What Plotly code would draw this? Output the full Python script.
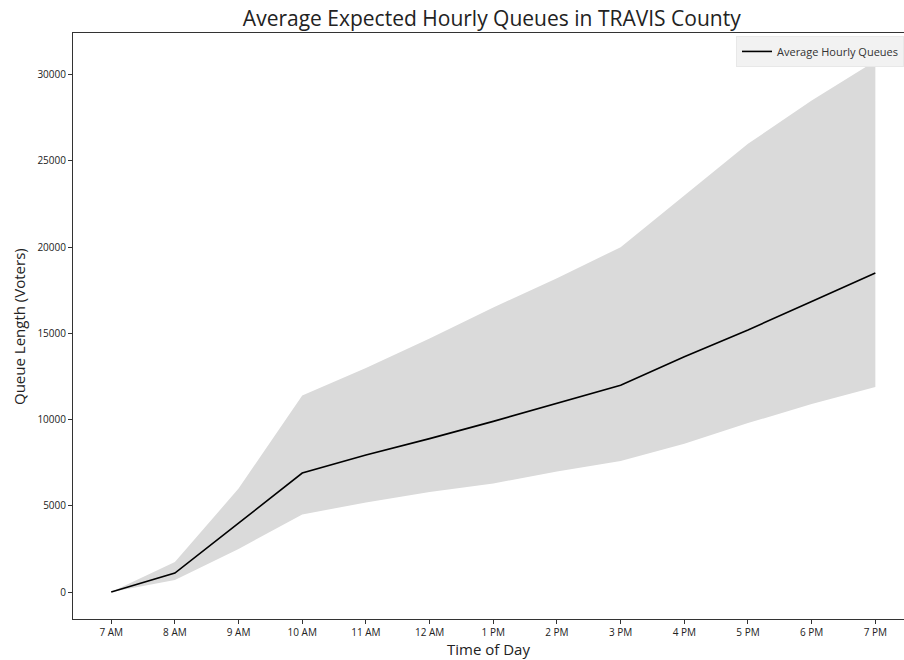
import plotly.graph_objects as go

hours = ["7 AM", "8 AM", "9 AM", "10 AM", "11 AM", "12 AM", "1 PM",
         "2 PM", "3 PM", "4 PM", "5 PM", "6 PM", "7 PM"]
mean_queue = [0, 1100, 4000, 6900, 7950, 8900, 9900, 10950, 12000,
              13650, 15200, 16850, 18500]
upper_queue = [0, 1750, 6000, 11400, 13000, 14700, 16500, 18200, 20000,
               23000, 26000, 28500, 30800]
lower_queue = [0, 700, 2500, 4500, 5200, 5800, 6300, 7000, 7600,
               8600, 9800, 10900, 11900]

yticks = [0, 5000, 10000, 15000, 20000, 25000, 30000]

FONT = "Open Sans"

fig = go.Figure()
fig.add_trace(go.Scatter(x=hours, y=upper_queue, mode="lines",
                         line=dict(width=0, color="rgba(0,0,0,0)"),
                         showlegend=False, hoverinfo="skip"))
fig.add_trace(go.Scatter(x=hours, y=lower_queue, mode="lines",
                         line=dict(width=0, color="rgba(0,0,0,0)"),
                         fill="tonexty", fillcolor="#dadada",
                         showlegend=False, hoverinfo="skip"))
fig.add_trace(go.Scatter(x=hours, y=mean_queue, mode="lines",
                         line=dict(color="black", width=1.6),
                         name="Average Hourly Queues"))

fig.update_layout(
    width=904, height=660,
    margin=dict(l=73, r=0, t=33, b=41),
    paper_bgcolor="white", plot_bgcolor="white",
    font=dict(family=FONT, color="#222222"),
    title=dict(text="Average Expected Hourly Queues in TRAVIS County",
               x=0.544, xanchor="center", y=0.971, yanchor="middle",
               font=dict(size=21, family=FONT, color="#222222")),
    showlegend=True,
    legend=dict(x=1, xanchor="right", y=0.995, yanchor="top",
                bgcolor="#f2f2f2", bordercolor="#e8e8e8", borderwidth=1,
                font=dict(size=11, family=FONT, color="#333333"),
                itemwidth=30, tracegroupgap=0),
    xaxis=dict(type="category", categoryorder="array", categoryarray=hours,
               range=[-0.6, 12.45], showgrid=False, zeroline=False,
               showline=True, linecolor="#333333", linewidth=1, mirror=True,
               ticks="outside", ticklen=4, tickcolor="#333333",
               tickfont=dict(size=10),
               title=dict(text="Time of Day", font=dict(size=15), standoff=1)),
    yaxis=dict(range=[-1560, 32420], tickvals=yticks,
               ticktext=[str(v) for v in yticks],
               showgrid=False, zeroline=False,
               showline=True, linecolor="#333333", linewidth=1, mirror=True,
               ticks="outside", ticklen=4, tickcolor="#333333",
               tickfont=dict(size=10)),
    annotations=[dict(text="Queue Length (Voters)", textangle=-90,
                      xref="paper", yref="paper",
                      x=-(73 - 19) / 831, y=(619 - 327) / 586,
                      xanchor="center", yanchor="middle", showarrow=False,
                      font=dict(size=15, family=FONT, color="#222222"))],
)

fig.write_html("out.html")
